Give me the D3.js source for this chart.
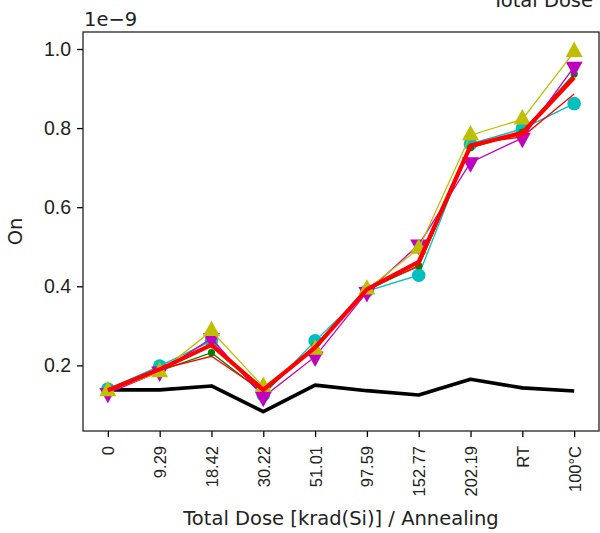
<!DOCTYPE html>
<html>
<head>
<meta charset="utf-8">
<script src="https://cdn.jsdelivr.net/npm/d3@7"></script>
<style>
  html, body { margin: 0; padding: 0; background: #fff; }
  svg { display: block; font-family: "DejaVu Sans", sans-serif; }
</style>
</head>
<body>
<svg id="chart" width="600" height="533"></svg>
<script>
// Categories (x tick labels)
const categories = ["0", "9.29", "18.42", "30.22", "51.01", "97.59", "152.77", "202.19", "RT", "100°C"];
// Y tick values (units of 1e-9)
const yTicks = [0.2, 0.4, 0.6, 0.8, 1.0];

// Series values (units of 1e-9)
const cyanVals    = [0.140, 0.198, 0.262, 0.125, 0.262, 0.388, 0.428, 0.760, 0.798, 0.862];
const greenVals   = [0.135, 0.186, 0.232, 0.130, 0.250, 0.390, 0.452, 0.750, 0.790, 0.937];
const magentaVals = [0.130, 0.184, 0.268, 0.120, 0.222, 0.385, 0.505, 0.713, 0.775, 0.955];
const yellowVals  = [0.135, 0.183, 0.287, 0.146, 0.240, 0.392, 0.495, 0.782, 0.822, 0.993];
const redThinVals = [0.138, 0.190, 0.223, 0.135, 0.250, 0.395, 0.450, 0.760, 0.778, 0.886];
const meanVals    = [0.137, 0.190, 0.252, 0.138, 0.245, 0.392, 0.462, 0.755, 0.788, 0.928];
const refVals     = [0.138, 0.138, 0.148, 0.083, 0.150, 0.136, 0.125, 0.165, 0.143, 0.135];

const svg = d3.select("#chart");
const L = 83, R = 599, T = 32, B = 431;

const x = d3.scaleLinear().domain([-0.48, 9.48]).range([L, R]);
const y = d3.scaleLinear().domain([0.034, 1.043]).range([B, T]);

const idx = d3.range(categories.length);
const line = d3.line().x((d, i) => x(i)).y(d => y(d));

// Clip for plot area
svg.append("defs").append("clipPath").attr("id", "clip")
  .append("rect").attr("x", L).attr("y", T).attr("width", R - L).attr("height", B - T);

const plot = svg.append("g").attr("clip-path", "url(#clip)");

// Black reference line
plot.append("path").datum(refVals).attr("d", line)
  .attr("fill", "none").attr("stroke", "#000").attr("stroke-width", 3.6)
  .attr("stroke-linejoin", "round");

const series = [
  { vals: cyanVals,    color: "#00bfbf", marker: "circle" },
  { vals: greenVals,   color: "#008000", marker: "dot" },
  { vals: magentaVals, color: "#bf00bf", marker: "down" },
  { vals: yellowVals,  color: "#bfbf00", marker: "up" },
  { vals: redThinVals, color: "#ff0000", marker: "none" }
];

const triUp = d3.symbol().type(d3.symbolTriangle).size(125);

series.forEach(s => {
  plot.append("path").datum(s.vals).attr("d", line)
    .attr("fill", "none").attr("stroke", s.color).attr("stroke-width", 1.3);
  const g = plot.append("g");
  if (s.marker === "circle") {
    g.selectAll("circle").data(s.vals).join("circle")
      .attr("cx", (d, i) => x(i)).attr("cy", d => y(d)).attr("r", 6.8)
      .attr("fill", s.color);
  } else if (s.marker === "dot") {
    g.selectAll("circle").data(s.vals).join("circle")
      .attr("cx", (d, i) => x(i)).attr("cy", d => y(d)).attr("r", 3.6)
      .attr("fill", s.color);
  } else if (s.marker === "up" || s.marker === "down") {
    const rot = s.marker === "down" ? 180 : 0;
    g.selectAll("path").data(s.vals).join("path")
      .attr("d", triUp)
      .attr("transform", (d, i) => `translate(${x(i)},${y(d)}) rotate(${rot}) scale(1,1.05)`)
      .attr("fill", s.color);
  }
});

// Thick red mean line
plot.append("path").datum(meanVals).attr("d", line)
  .attr("fill", "none").attr("stroke", "#ff0000").attr("stroke-width", 4.2)
  .attr("stroke-linejoin", "round");

// Axes
const xAxis = d3.axisBottom(x).tickValues(idx).tickFormat(i => categories[i])
  .tickSize(6).tickPadding(4);
const gx = svg.append("g").attr("transform", `translate(0,${B})`).call(xAxis);
gx.select(".domain").remove();
gx.selectAll(".tick line").attr("stroke", "#000").attr("stroke-width", 1.3);
gx.selectAll(".tick text")
  .attr("font-size", 16.5).attr("fill", "#222")
  .attr("text-anchor", "end")
  .attr("dy", null).attr("y", null)
  .attr("transform", "translate(0,15) rotate(-90)")
  .attr("dominant-baseline", "central");

const yAxis = d3.axisLeft(y).tickValues(yTicks).tickFormat(d3.format(".1f"))
  .tickSize(6).tickPadding(6);
const gy = svg.append("g").attr("transform", `translate(${L},0)`).call(yAxis);
gy.select(".domain").remove();
gy.selectAll(".tick line").attr("stroke", "#000").attr("stroke-width", 1.3);
gy.selectAll(".tick text").attr("font-size", 19.5).attr("fill", "#222");

// Frame (spines)
svg.append("rect").attr("x", L).attr("y", T).attr("width", R - L).attr("height", B - T)
  .attr("fill", "none").attr("stroke", "#222").attr("stroke-width", 1.3);

// Offset text
svg.append("text").attr("x", L + 1).attr("y", 26).attr("font-size", 19.5).attr("fill", "#222")
  .text("1e\u22129");

// Title (partially cut off at top, as in the reference)
svg.append("text").attr("x", 593).attr("y", 7).attr("text-anchor", "end")
  .attr("font-size", 19.5).attr("fill", "#222").text("Total Dose");

// Axis labels
svg.append("text").attr("x", (L + R) / 2).attr("y", 525).attr("text-anchor", "middle")
  .attr("font-size", 19.5).attr("fill", "#222").text("Total Dose [krad(Si)] / Annealing");

svg.append("text").attr("transform", `translate(22,${(T + B) / 2}) rotate(-90)`)
  .attr("text-anchor", "middle").attr("font-size", 19.5).attr("fill", "#222").text("On");
</script>
</body>
</html>
